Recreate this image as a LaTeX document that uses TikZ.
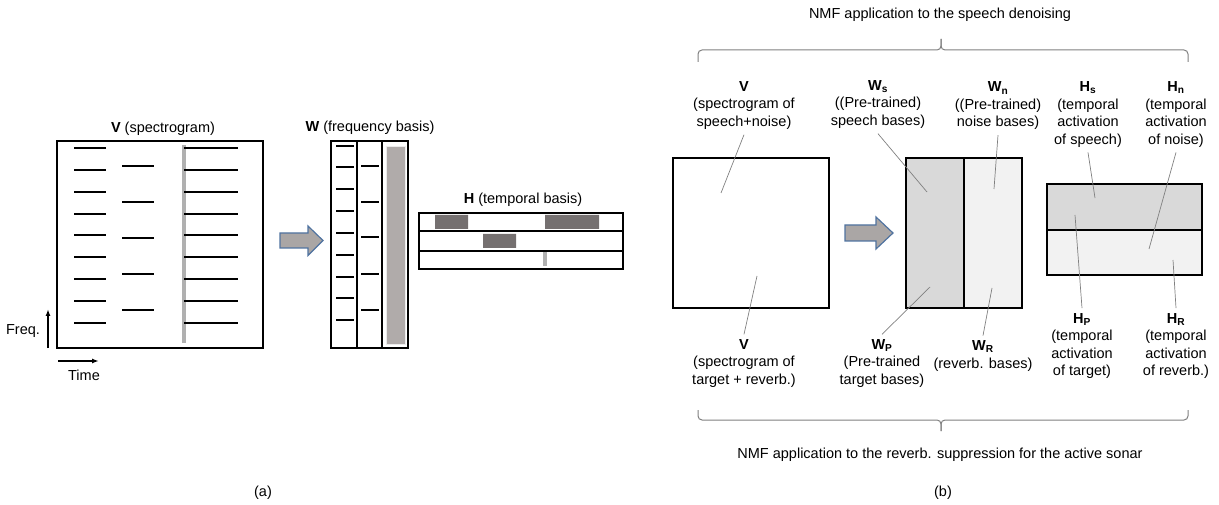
\documentclass[tikz,border=0pt]{standalone}
\usepackage{fontspec}
\setmainfont{Liberation Sans}
\usetikzlibrary{arrows.meta}
\definecolor{barGray}{RGB}{176,176,176}
\definecolor{basisGray}{RGB}{176,171,170}
\definecolor{actDark}{RGB}{117,112,112}
\definecolor{arrowFill}{RGB}{170,166,165}
\definecolor{arrowEdge}{RGB}{80,115,160}
\definecolor{speechFill}{RGB}{217,217,217}
\definecolor{noiseFill}{RGB}{242,242,242}
\definecolor{leadGray}{RGB}{128,128,128}
\newcommand{\figfont}{\fontsize{14.5}{17.5}\selectfont}

\begin{document}
\begin{tikzpicture}[x=1pt,y=-1pt,
    every node/.style={font=\figfont,inner sep=1pt},
    matbox/.style={line width=2.9pt},
    specline/.style={line width=1.9pt},
    blockarrow/.style={fill=arrowFill,draw=arrowEdge,line width=1.2pt},
    pointer/.style={draw=leadGray,line width=0.7pt},
    bracket/.style={draw=leadGray,line width=1pt,rounded corners=4pt},
    lbl/.style={align=center,inner sep=5pt}]
    \useasboundingbox (0,0) rectangle (1219,505);
    % (a) spectrogram V
    \node (vtitle) at (163,129) {\textbf{V} (spectrogram)};
    \draw[barGray,line width=4pt] (184,145) -- (184,343);
    \draw[specline] (74,148) -- (106,148) (74,170) -- (106,170) (74,192) -- (106,192)
        (74,214) -- (106,214) (74,235) -- (106,235) (74,257) -- (106,257)
        (74,279) -- (106,279) (74,301) -- (106,301) (74,323) -- (106,323);
    \draw[specline] (122,166) -- (154,166) (122,202) -- (154,202) (122,238) -- (154,238)
        (122,274) -- (154,274) (122,310) -- (154,310);
    \draw[specline] (184,148) -- (238,148) (184,170) -- (238,170) (184,192) -- (238,192)
        (184,214) -- (238,214) (184,235) -- (238,235) (184,257) -- (238,257)
        (184,279) -- (238,279) (184,301) -- (238,301) (184,323) -- (238,323);
    \draw[matbox] (57,141) rectangle (263,348);
    \coordinate (f0) at (48,348);
    \coordinate (f1) at (48,309);
    \coordinate (t0) at (58,361);
    \coordinate (t1) at (99,361);
    \draw[line width=1.4pt,-{Latex[length=7pt,width=5pt]}] (f0) -- (f1);
    \draw[line width=1.4pt,-{Latex[length=7pt,width=5pt]}] (t0) -- (t1);
    \node (freqlbl) at (23,331) {Freq.};
    \node (timelbl) at (84,375) {Time};
    \draw[blockarrow] (280,233) -- (308,233) -- (308,226) -- (323,240.5) -- (308,255.5) -- (308,248) -- (280,248) -- cycle;
    % (a) frequency basis W
    \node (wtitle) at (370,128) {\textbf{W} (frequency basis)};
    \draw[fill=basisGray,draw=white!85!gray,line width=0.8pt] (386,146) rectangle (405,344);
    \draw[specline] (336,146) -- (354,146) (336,167) -- (354,167) (336,189) -- (354,189)
        (336,211) -- (354,211) (336,233) -- (354,233) (336,255) -- (354,255)
        (336,277) -- (354,277) (336,298) -- (354,298) (336,320) -- (354,320);
    \draw[specline] (361,166) -- (379,166) (361,202) -- (379,202) (361,237) -- (379,237)
        (361,274) -- (379,274) (361,310) -- (379,310);
    \draw[matbox] (331,141) rectangle (408,348);
    \draw[matbox] (357,141) -- (357,348) (382,141) -- (382,348);
    % (a) temporal basis H
    \node (htitle) at (523,200) {\textbf{H} (temporal basis)};
    \fill[actDark] (435,215) rectangle (468,229) (545,215) rectangle (599,229) (483,234) rectangle (516,248);
    \fill[barGray] (543,252) rectangle (547,266);
    \draw[matbox] (419,213) rectangle (623,269);
    \draw[matbox] (419,231) -- (623,231) (419,251) -- (623,251);
    \node (capa) at (263,493) {(a)};
    % (b) speech denoising / reverb. suppression
    \node (toptext) at (940,15) {NMF application to the speech denoising};
    \draw[bracket] (698,62) |- (941,50) -- (941,39);
    \draw[bracket] (941,39) -- (941,50) -| (1188,62);
    \draw[bracket] (698,410) |- (941,420) -- (941,431);
    \draw[bracket] (941,431) -- (941,420) -| (1188,410);
    \node (bottext) at (940,455) {NMF application to the reverb. suppression for the active sonar};
    \node (capb) at (943,493) {(b)};
    \draw[matbox] (673,158) rectangle (829,308);
    \draw[blockarrow] (845,225) -- (876,225) -- (876,217) -- (893,233) -- (876,249) -- (876,241) -- (845,241) -- cycle;
    \draw[matbox,fill=speechFill] (906,158) rectangle (964,308);
    \draw[matbox,fill=noiseFill] (964,158) rectangle (1022,308);
    \draw[matbox,fill=speechFill] (1047,184) rectangle (1202,230);
    \draw[matbox,fill=noiseFill] (1047,230) rectangle (1202,275);
    \node[lbl] (vtop) at (744,105.5) {\textbf{V}\\(spectrogram of\\speech+noise)};
    \node[lbl] (wslbl) at (878,104.5) {\textbf{W\textsubscript{s}}\\((Pre-trained)\\speech bases)};
    \node[lbl] (wnlbl) at (998,106) {\textbf{W\textsubscript{n}}\\((Pre-trained)\\noise bases)};
    \node[lbl] (hslbl) at (1088,114.5) {\textbf{H\textsubscript{s}}\\(temporal\\activation\\of speech)};
    \node[lbl] (hnlbl) at (1176,114.5) {\textbf{H\textsubscript{n}}\\(temporal\\activation\\of noise)};
    \node[lbl] (vbot) at (744,363.5) {\textbf{V}\\(spectrogram of\\target + reverb.)};
    \node[lbl] (wplbl) at (882,363.5) {\textbf{W\textsubscript{P}}\\(Pre-trained\\target bases)};
    \node[lbl] (wrlbl) at (983,356) {\textbf{W\textsubscript{R}}\\(reverb. bases)};
    \node[lbl] (hplbl) at (1082,346) {\textbf{H\textsubscript{P}}\\(temporal\\activation\\of target)};
    \node[lbl] (hrlbl) at (1176,346) {\textbf{H\textsubscript{R}}\\(temporal\\activation\\of reverb.)};
    \coordinate (vtopP) at (721,193);
    \coordinate (vbotP) at (757,276);
    \coordinate (wsP) at (927,192);
    \coordinate (wpP) at (930,287);
    \coordinate (wnP) at (994,189);
    \coordinate (wrP) at (992,288);
    \coordinate (hsP) at (1095,198);
    \coordinate (hnP) at (1149,249);
    \coordinate (hpP) at (1075,215);
    \coordinate (hrP) at (1173,260);
    \draw[pointer] (vtop.south) -- (vtopP);
    \draw[pointer] (vbot.north) -- (vbotP);
    \draw[pointer] (wslbl.south) -- (wsP);
    \draw[pointer] (wplbl.north) -- (wpP);
    \draw[pointer] (wnlbl.south) -- (wnP);
    \draw[pointer] (wrlbl.north) -- (wrP);
    \draw[pointer] (hslbl.south) -- (hsP);
    \draw[pointer] (hnlbl.south) -- (hnP);
    \draw[pointer] (hplbl.north) -- (hpP);
    \draw[pointer] (hrlbl.north) -- (hrP);
\end{tikzpicture}
\end{document}
